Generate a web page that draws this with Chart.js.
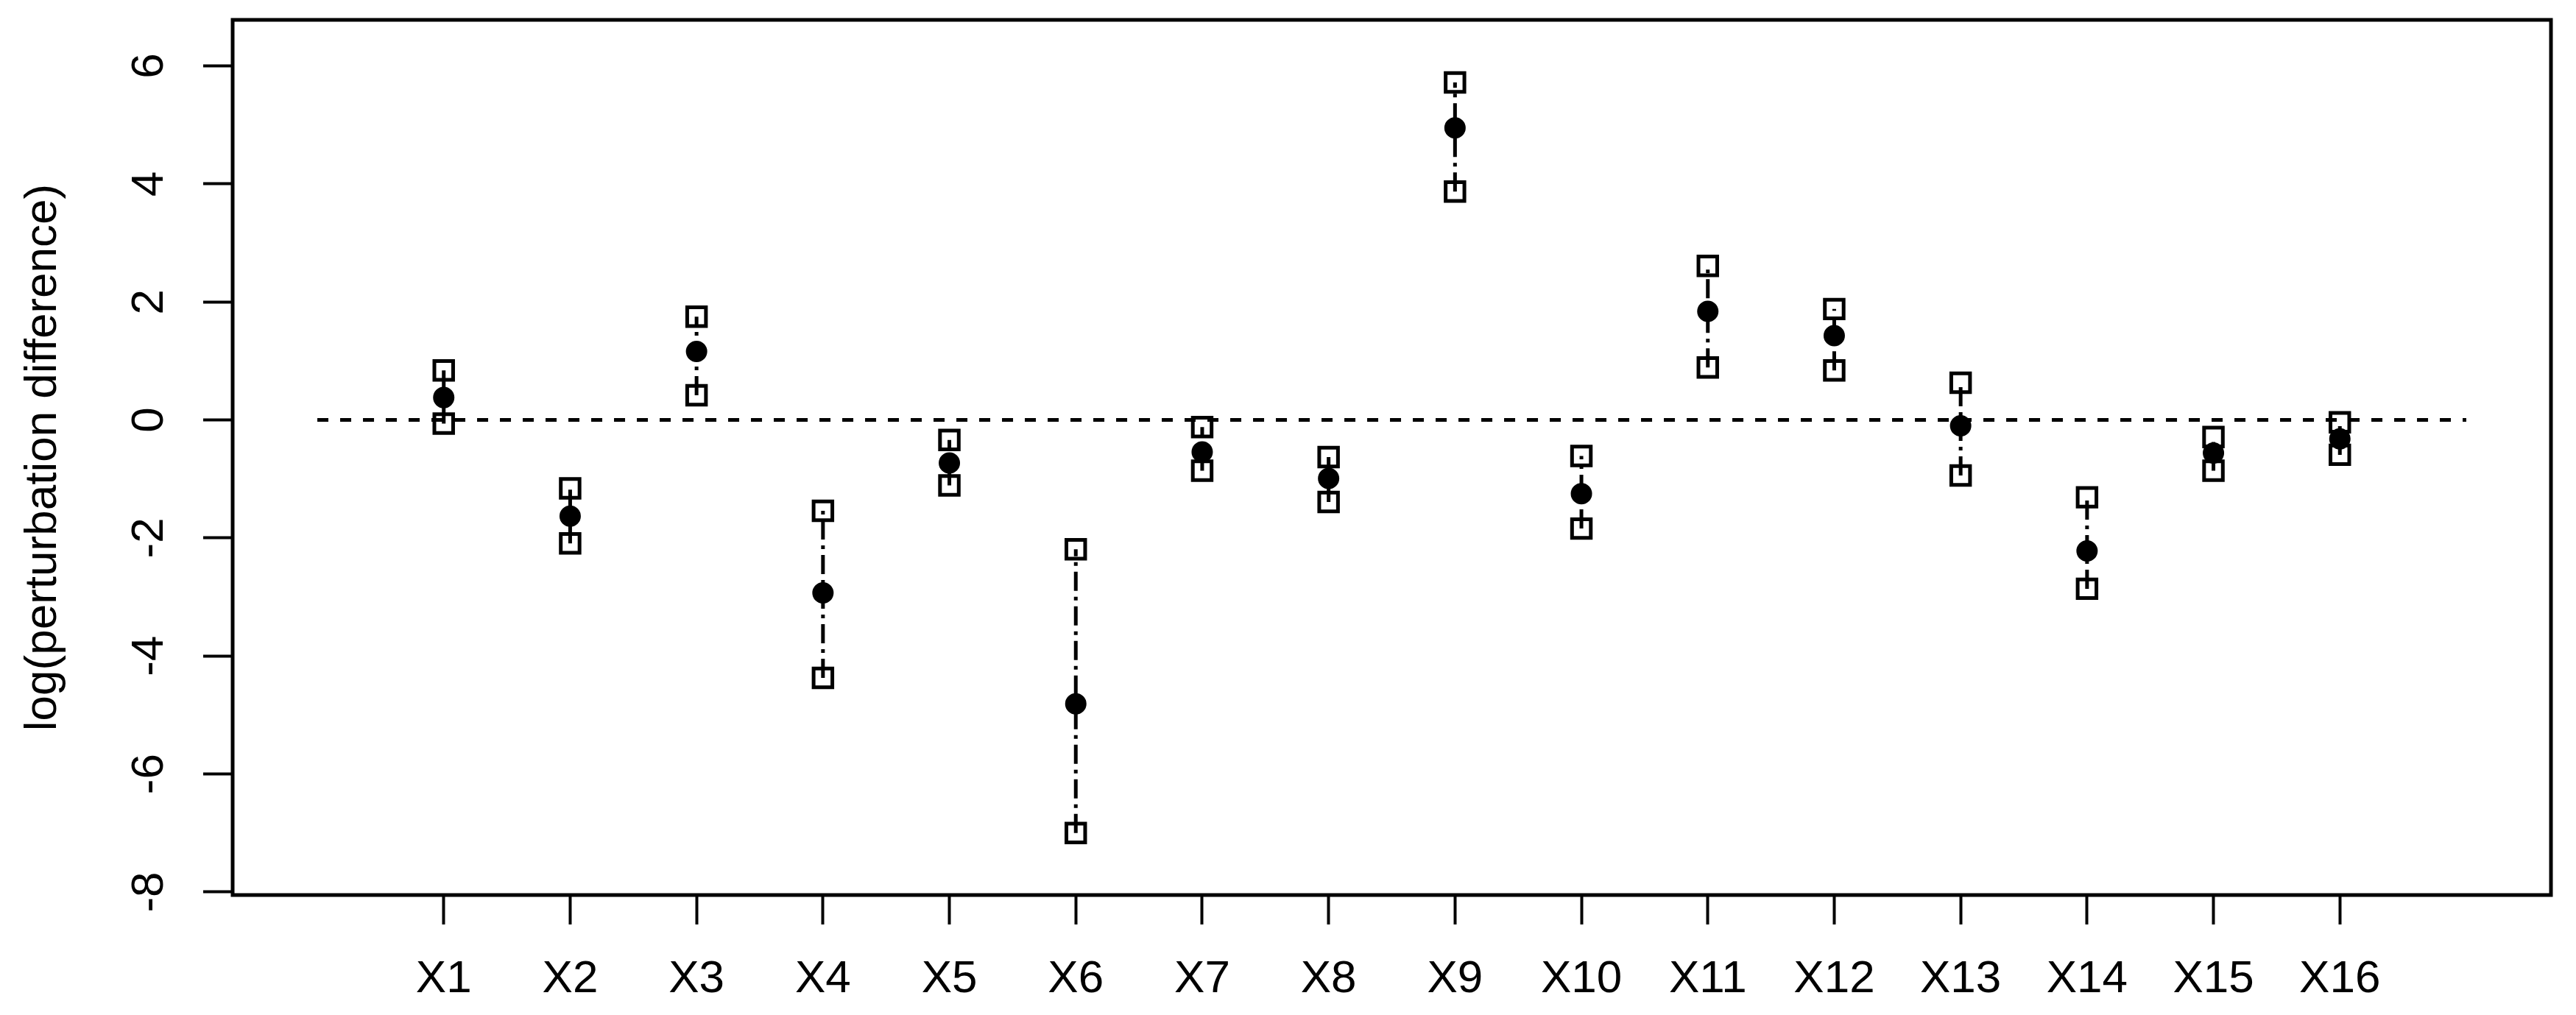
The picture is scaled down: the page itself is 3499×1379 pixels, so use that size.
<!DOCTYPE html>
<html>
<head>
<meta charset="utf-8">
<script src="https://cdn.jsdelivr.net/npm/chart.js@4.4.1/dist/chart.umd.min.js"></script>
<style>
  html, body { margin: 0; padding: 0; background: #fff; }
  canvas { display: block; }
</style>
</head>
<body>
<canvas id="plot" width="3499" height="1379"></canvas>
<script>
const LABELS = ['X1', 'X2', 'X3', 'X4', 'X5', 'X6', 'X7', 'X8',
                'X9', 'X10', 'X11', 'X12', 'X13', 'X14', 'X15', 'X16'];
const UPPER = [0.84, -1.16, 1.75, -1.54, -0.34, -2.19, -0.12, -0.63,
               5.72, -0.61, 2.61, 1.88, 0.63, -1.31, -0.29, -0.04];
const MID = [0.38, -1.63, 1.16, -2.93, -0.73, -4.81, -0.54, -0.99,
             4.95, -1.25, 1.84, 1.43, -0.10, -2.22, -0.56, -0.32];
const LOWER = [-0.06, -2.09, 0.42, -4.37, -1.11, -7.00, -0.86, -1.39,
               3.87, -1.84, 0.89, 0.84, -0.94, -2.86, -0.86, -0.59];
const Y_TICKS = [-8, -6, -4, -2, 0, 2, 4, 6];
const REF_X = [0, 17];
const REF_Y = 0;

const FONT = { family: '"Liberation Sans", Arial, Helvetica, sans-serif', size: 62 };
const pos = (i) => i + 1;

let segs = [];
LABELS.forEach((l, i) => {
    segs.push({ x: pos(i), y: LOWER[i] });
    segs.push({ x: pos(i), y: UPPER[i] });
    segs.push({ x: pos(i), y: null });
});

const boxPlugin = {
    id: 'box',
    afterDraw(chart) {
        const a = chart.chartArea;
        const ctx = chart.ctx;
        ctx.save();
        ctx.strokeStyle = '#000';
        ctx.lineWidth = 5;
        ctx.strokeRect(a.left, a.top, a.right - a.left, a.bottom - a.top);
        ctx.restore();
    }
};

let config = {
    type: 'scatter',
    data: {
        datasets: [
            {
                label: 'mid',
                data: MID.map((v, i) => ({ x: pos(i), y: v })),
                pointStyle: 'circle',
                pointRadius: 13.5,
                borderWidth: 2,
                borderColor: '#000',
                backgroundColor: '#000',
            },
            {
                label: 'upper',
                data: UPPER.map((v, i) => ({ x: pos(i), y: v })),
                pointStyle: 'rect',
                pointRadius: 18,
                borderWidth: 5,
                borderColor: '#000',
                backgroundColor: 'rgba(0,0,0,0)',
            },
            {
                label: 'lower',
                data: LOWER.map((v, i) => ({ x: pos(i), y: v })),
                pointStyle: 'rect',
                pointRadius: 18,
                borderWidth: 5,
                borderColor: '#000',
                backgroundColor: 'rgba(0,0,0,0)',
            },
            {
                label: 'range',
                data: segs,
                showLine: true,
                spanGaps: false,
                pointRadius: 0,
                borderWidth: 5,
                borderColor: '#000',
                borderDash: [26, 8, 5, 8],
                borderCapStyle: 'butt',
            },
            {
                label: 'zero',
                data: REF_X.map(x => ({ x: x, y: REF_Y })),
                showLine: true,
                pointRadius: 0,
                borderWidth: 5,
                borderColor: '#000',
                borderDash: [15, 16],
                borderCapStyle: 'butt',
            },
        ]
    },
    options: {
        responsive: false,
        devicePixelRatio: 1,
        animation: false,
        layout: { padding: { left: 0, top: 27, right: 34, bottom: 0 } },
        plugins: {
            legend: { display: false },
            tooltip: { enabled: false },
        },
        scales: {
            x: {
                type: 'linear',
                min: -0.67,
                max: 17.67,
                afterBuildTicks: (s) => { s.ticks = LABELS.map((l, i) => ({ value: pos(i) })); },
                afterFit: (s) => {
                    s.height = 163;
                    s.paddingLeft = 0;
                    s.paddingRight = 0;
                },
                ticks: {
                    autoSkip: false,
                    maxRotation: 0,
                    padding: 38,
                    color: '#000',
                    font: FONT,
                    callback: (v) => LABELS[v - 1],
                },
                grid: {
                    drawOnChartArea: false,
                    drawTicks: true,
                    tickLength: 40,
                    tickWidth: 4,
                    tickColor: '#000',
                },
                border: { display: false },
            },
            y: {
                min: -8.05,
                max: 6.78,
                afterBuildTicks: (s) => { s.ticks = Y_TICKS.map(v => ({ value: v })); },
                afterFit: (s) => {
                    s.width = 316;
                    s.paddingTop = 0;
                    s.paddingBottom = 0;
                },
                ticks: {
                    minRotation: 90,
                    maxRotation: 90,
                    crossAlign: 'center',
                    padding: 45,
                    color: '#000',
                    font: FONT,
                },
                grid: {
                    drawOnChartArea: false,
                    drawTicks: true,
                    tickLength: 40,
                    tickWidth: 4,
                    tickColor: '#000',
                },
                border: { display: false },
                title: {
                    display: true,
                    text: 'log(perturbation difference)',
                    color: '#000',
                    font: FONT,
                    padding: { top: 22, bottom: 0 },
                },
            },
        },
    },
    plugins: [boxPlugin],
};

new Chart(document.getElementById('plot'), config);
</script>
</body>
</html>
